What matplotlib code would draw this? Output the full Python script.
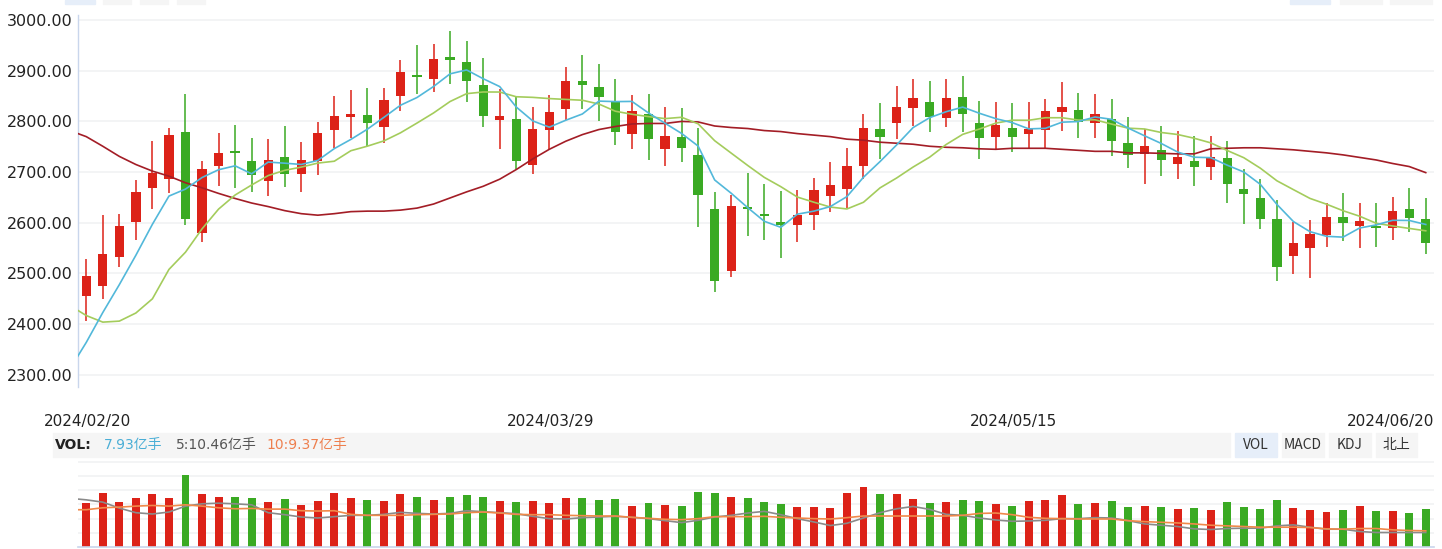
import numpy as np
import matplotlib
matplotlib.use("Agg")
import matplotlib.pyplot as plt
from matplotlib.patches import Rectangle
from matplotlib.transforms import blended_transform_factory

# daily candles, 2024/02/20 .. 2024/06/20 (82 trading days)
opens = [2455, 2475, 2532, 2601, 2668, 2685.5, 2780, 2579.6, 2712, 2739.5,
         2722.4, 2682, 2729, 2696, 2722.4, 2783, 2808.6, 2811.8, 2788.8, 2850,
         2892, 2883.6, 2926.3, 2916.4, 2871, 2802.6, 2804, 2715, 2783, 2824.3,
         2879, 2867, 2840, 2775, 2813.8, 2745.4, 2768.4, 2733, 2628, 2504.6,
         2631.6, 2616.4, 2600.7, 2595.4, 2615, 2652.6, 2666.4, 2712, 2784.2, 2796.7,
         2826.3, 2837.5, 2806.6, 2847.4, 2796, 2769, 2786.2, 2775, 2783, 2818.4,
         2821.7, 2796.7, 2804, 2756.6, 2735.5, 2742.8, 2715.8, 2721, 2710, 2727,
         2665.8, 2648, 2606.6, 2534.2, 2550, 2575, 2610.5, 2593.4, 2590.8, 2589.5,
         2626.3, 2606.6]
highs = [2528, 2616, 2618, 2684, 2760.5, 2788, 2855, 2721, 2778, 2792,
         2766.4, 2764.5, 2790, 2758.6, 2798, 2849.3, 2863, 2865, 2865, 2920.4,
         2950, 2952, 2977.6, 2958, 2924.3, 2864.5, 2848, 2827.6, 2851.3, 2906.6,
         2930.3, 2912.5, 2883, 2851.3, 2855, 2827.6, 2825.7, 2786.2, 2660, 2654,
         2697.4, 2675.7, 2661.8, 2663.8, 2687.5, 2719, 2746.7, 2813.8, 2835.5, 2869,
         2883, 2879, 2883, 2888.8, 2839.5, 2837.5, 2835.5, 2837.5, 2843.4, 2877,
         2857, 2855, 2843.4, 2808, 2784.2, 2790, 2780.3, 2770.4, 2770.4, 2760.5,
         2705.3, 2685.5, 2644, 2600.7, 2604.6, 2640, 2658, 2640, 2638.2, 2650,
         2667.8, 2648]
lows = [2406, 2449, 2512.5, 2566, 2628, 2658.6, 2595, 2562, 2671.7, 2668.4,
        2660.5, 2652.6, 2670.4, 2660.5, 2694, 2747.4, 2766.4, 2750.7, 2757.2, 2820.4,
        2855, 2858, 2873.7, 2838, 2788.8, 2744.7, 2705.3, 2696, 2744.7, 2802.6,
        2824.3, 2800.7, 2753.3, 2744.7, 2723, 2712, 2719, 2590.8, 2463, 2492.8,
        2573, 2566, 2530.3, 2562, 2585.5, 2621, 2629, 2685.5, 2725, 2764.5,
        2790, 2779, 2788.8, 2779, 2725, 2743.4, 2738.8, 2745.4, 2747.4, 2781,
        2767, 2767, 2731.6, 2708, 2676.3, 2692, 2686, 2672.4, 2684.2, 2638.8,
        2597.4, 2587.5, 2485, 2498.7, 2490.8, 2552, 2563.8, 2550, 2552, 2566,
        2581.6, 2538]
closes = [2496, 2537.5, 2593, 2660, 2699, 2774, 2606.6, 2707, 2737, 2737.5,
          2694.7, 2723, 2696, 2724.3, 2777.6, 2811, 2813.8, 2796.7, 2841.4, 2896.7,
          2887.5, 2922.4, 2921.7, 2879.6, 2810.5, 2809.9, 2721, 2784.2, 2817.8, 2879,
          2871.7, 2848, 2779, 2819.7, 2765, 2770.4, 2747.4, 2654.6, 2485, 2634,
          2628, 2613.2, 2595.4, 2614.5, 2663.8, 2673.7, 2711.2, 2786.2, 2769, 2827.6,
          2845.4, 2808.6, 2845.4, 2814.5, 2767, 2792, 2769, 2784.2, 2819.7, 2827.6,
          2798.7, 2813.8, 2761.2, 2733.6, 2750.7, 2723.7, 2729, 2710, 2729, 2676.3,
          2656.6, 2607.2, 2512.5, 2559.2, 2577, 2610.5, 2599.3, 2602.6, 2589.5, 2622.4,
          2609.2, 2560]

# moving average lines (first value = day before 02/20)
ma5 = [2311, 2364, 2423, 2478, 2536, 2597.1, 2652.7, 2666.5, 2689.3, 2704.7,
       2712.4, 2696.6, 2719.8, 2717.6, 2715.1, 2723.1, 2746.4, 2764.5, 2784.7, 2808.1,
       2831.9, 2847.2, 2868.9, 2893.9, 2901.6, 2884.3, 2868.8, 2828.5, 2801.0, 2788.7,
       2802.4, 2814.7, 2840.1, 2839.1, 2839.5, 2816.7, 2796.4, 2776.3, 2751.4, 2684.5,
       2658.3, 2629.8, 2603.0, 2591.1, 2617.0, 2623.0, 2632.1, 2651.7, 2689.9, 2720.8,
       2753.5, 2787.9, 2807.4, 2819.2, 2828.3, 2816.2, 2805.5, 2797.6, 2785.3, 2786.4,
       2798.5, 2799.8, 2808.8, 2804.2, 2787.0, 2771.6, 2756.6, 2739.6, 2729.4, 2728.5,
       2713.6, 2700.2, 2675.8, 2636.3, 2602.4, 2582.5, 2573.3, 2571.7, 2589.7, 2595.8,
       2604.9, 2604.6, 2596.7]
ma10 = [2437, 2417, 2404, 2406, 2422, 2450, 2508, 2542, 2588, 2627,
        2654.8, 2674.6, 2693.2, 2703.5, 2709.9, 2717.8, 2721.5, 2742.2, 2751.2, 2761.6,
        2777.5, 2796.8, 2816.7, 2839.3, 2854.8, 2858.1, 2858.0, 2848.7, 2847.5, 2845.1,
        2843.4, 2841.8, 2834.3, 2820.1, 2814.1, 2809.5, 2805.6, 2808.2, 2795.3, 2762.0,
        2737.5, 2713.1, 2689.6, 2671.3, 2650.8, 2640.6, 2631.0, 2627.3, 2640.5, 2668.9,
        2688.3, 2710.0, 2729.5, 2754.5, 2774.5, 2784.9, 2796.7, 2802.5, 2802.3, 2807.3,
        2807.3, 2802.7, 2803.2, 2794.8, 2786.7, 2785.1, 2778.2, 2774.2, 2766.8, 2757.7,
        2742.6, 2728.4, 2707.7, 2682.9, 2665.4, 2648.1, 2636.7, 2623.8, 2613.0, 2599.1,
        2593.7, 2588.9, 2584.2]
ma60 = [2782, 2770, 2751, 2731, 2715, 2702, 2692, 2679, 2669, 2658,
        2648, 2639, 2632, 2624, 2618, 2615, 2618, 2622, 2623, 2623,
        2625, 2629, 2637, 2649, 2661, 2672, 2686, 2705, 2726, 2745,
        2761, 2774, 2784, 2790, 2795, 2796, 2796, 2800, 2799, 2791,
        2788, 2786, 2782, 2780, 2776, 2773, 2770, 2765, 2763, 2759,
        2757, 2755, 2751, 2749, 2748, 2746, 2745, 2747, 2747, 2747,
        2745, 2743, 2741, 2741, 2738, 2738, 2737, 2736, 2736, 2746,
        2747, 2748, 2748, 2746, 2744, 2741, 2738, 2734, 2729, 2724,
        2717, 2711, 2699]

# volume (亿手) and its averages
volume = [9.21, 11.51, 9.42, 10.47, 11.3, 10.47, 15.28, 11.3, 10.68, 10.68,
          10.47, 9.42, 10.26, 8.79, 9.84, 11.51, 10.47, 10.05, 9.84, 11.3,
          10.68, 10.05, 10.68, 11.1, 10.68, 9.63, 9.42, 9.63, 9.21, 10.47,
          10.47, 10.05, 10.26, 8.58, 9.21, 8.79, 8.58, 11.72, 11.51, 10.68,
          10.47, 9.42, 9.0, 8.37, 8.37, 8.16, 11.51, 12.77, 11.3, 11.3,
          10.26, 9.21, 9.42, 10.05, 9.84, 9.0, 8.58, 9.63, 10.05, 11.1,
          9.0, 9.21, 9.63, 8.37, 8.58, 8.37, 7.96, 8.16, 7.75, 9.42,
          8.37, 7.96, 10.05, 8.16, 7.75, 7.33, 7.75, 8.58, 7.54, 7.54,
          7.12, 7.96]
vol_ma5 = [10.3, 9.98, 9.49, 8.23, 7.26, 6.98, 7.40, 8.65, 9.14, 9.28,
           9.14, 8.93, 7.26, 6.84, 6.35, 6.14, 6.42, 6.70, 6.70, 6.91,
           7.33, 7.12, 6.98, 7.12, 7.68, 7.47, 7.26, 7.05, 6.49, 6.00,
           5.93, 6.21, 6.35, 6.49, 6.28, 6.00, 5.58, 5.16, 5.65, 6.35,
           6.70, 7.19, 7.54, 6.84, 6.00, 5.30, 4.54, 5.02, 6.14, 7.26,
           8.09, 8.58, 7.96, 6.91, 6.70, 6.14, 5.72, 5.44, 5.51, 5.65,
           6.00, 6.00, 6.21, 6.14, 5.58, 4.88, 4.61, 4.33, 3.84, 3.70,
           3.91, 3.98, 3.98, 4.47, 4.68, 4.19, 3.77, 3.77, 3.28, 3.07,
           3.07, 3.07, 3.07]
vol_ma10 = [7.89, 7.89, 8.30, 8.44, 8.65, 8.79, 8.65, 8.93, 8.65, 8.30,
            8.09, 8.16, 8.02, 8.02, 7.68, 7.61, 7.68, 6.91, 6.70, 6.70,
            6.70, 6.84, 6.91, 6.98, 7.26, 7.40, 7.19, 6.91, 6.84, 6.84,
            6.70, 6.63, 6.56, 6.56, 6.28, 6.07, 5.86, 5.79, 6.00, 6.42,
            6.42, 6.42, 6.49, 6.28, 6.14, 6.00, 5.93, 6.21, 6.56, 6.56,
            6.56, 6.56, 6.56, 6.56, 6.70, 7.10, 7.19, 6.84, 6.28, 6.07,
            6.00, 5.93, 5.93, 5.93, 5.58, 5.37, 5.23, 5.09, 4.88, 4.61,
            4.47, 4.33, 4.19, 4.19, 4.19, 4.12, 3.84, 3.77, 3.91, 3.91,
            3.63, 3.49, 3.42]

date_labels = ["2024/02/20", "2024/03/29", "2024/05/15", "2024/06/20"]
date_index = [0, 28, 56, 81]
price_ticks = [2300, 2400, 2500, 2600, 2700, 2800, 2900, 3000]

RED = "#dc2218"
GREEN = "#3aaa23"
GRID = "#f2f3f5"
AXIS = "#c9d6ec"

W, H = 1442, 549


def fx(px):
    return px / W


def fy(py):
    return 1 - py / H


fig = plt.figure(figsize=(W / 100, H / 100), dpi=100)
fig.patch.set_facecolor("white")

# price panel
ax = fig.add_axes([fx(78), fy(387), fx(1434) - fx(78), fy(15) - fy(387)])
n = len(closes)
idx = np.arange(n)
o = np.array(opens)
c = np.array(closes)
up = c >= o
cols = [RED if u else GREEN for u in up]

for p in price_ticks:
    ax.axhline(p, color=GRID, lw=1.3, zorder=0)

ax.vlines(idx, lows, highs, colors=cols, lw=1.1, zorder=2)
body_lo = np.minimum(o, c)
body_h = np.maximum(np.abs(c - o), 4.0)
ax.bar(idx, body_h, bottom=body_lo, width=0.56, color=cols, zorder=3)

xl = np.arange(-1, n)
ax.plot(xl, ma60, color="#a31d26", lw=1.2, zorder=4)
ax.plot(xl, ma10, color="#a4cc5c", lw=1.2, zorder=4)
ax.plot(xl, ma5, color="#52b8da", lw=1.2, zorder=4)

ax.set_xlim(-0.5, n - 0.5)
ax.set_ylim(2276, 3010)
ax.set_yticks(price_ticks)
ax.set_yticklabels(["%.2f" % p for p in price_ticks], fontsize=11.5, color="#222222")
ax.tick_params(axis="y", length=0, pad=4)
ax.set_xticks([])
for s in ["top", "right", "bottom"]:
    ax.spines[s].set_visible(False)
ax.spines["left"].set_color(AXIS)
ax.spines["left"].set_linewidth(1.0)

tr = blended_transform_factory(ax.transData, ax.transAxes)
for lab, i in zip(date_labels, date_index):
    if i == n - 1:
        ax.text(n - 0.5, -0.092, lab, transform=tr, ha="right", va="center",
                fontsize=11, color="#222222")
    else:
        ax.text(i + 0.1, -0.092, lab, transform=tr, ha="center", va="center",
                fontsize=11, color="#222222")

# volume panel
vax = fig.add_axes([fx(78), fy(547), fx(1434) - fx(78), fy(461) - fy(547)])
for g in [3, 6, 9, 12, 15, 18]:
    vax.axhline(g, color=GRID, lw=1.3, zorder=0)
vax.bar(idx, volume, width=0.48, color=cols, zorder=2)
vax.plot(xl, vol_ma5, color="#8a8a8a", lw=1.2, zorder=3)
vax.plot(xl, vol_ma10, color="#f0894a", lw=1.2, zorder=3)
vax.set_xlim(-0.5, n - 0.5)
vax.set_ylim(0, 18.2)
vax.set_xticks([])
vax.set_yticks([])
for s in ["top", "right", "left"]:
    vax.spines[s].set_visible(False)
vax.spines["bottom"].set_color(AXIS)
vax.spines["bottom"].set_linewidth(1.2)

# header strip of the volume panel
fig.patches.append(Rectangle((fx(53), fy(457)), fx(1230) - fx(53), fy(433) - fy(457),
                             transform=fig.transFigure, color="#f5f5f5", zorder=0))
btns = [("VOL", 1235, 1277, "#e6eef9"), ("MACD", 1282, 1324, "#f5f5f5"),
        ("KDJ", 1329, 1371, "#f5f5f5"), ("北上", 1376, 1417, "#f5f5f5")]
cjk = ["DejaVu Sans", "Noto Sans CJK SC"]
for lab, x0, x1, bg in btns:
    fig.patches.append(Rectangle((fx(x0), fy(457)), fx(x1) - fx(x0), fy(433) - fy(457),
                                 transform=fig.transFigure, color=bg, zorder=0))
    fig.text(fx((x0 + x1) / 2), fy(445), lab, ha="center", va="center",
             fontsize=10, color="#333333", family=["Noto Sans CJK SC", "DejaVu Sans"])

fig.text(fx(55), fy(445), "VOL:", ha="left", va="center", fontsize=10,
         fontweight="bold", color="#222222")
fig.text(fx(104), fy(445), "7.93亿手", ha="left", va="center", fontsize=10,
         color="#4aaed6", family=cjk)
fig.text(fx(176), fy(445), "5:10.46亿手", ha="left", va="center", fontsize=10,
         color="#555555", family=cjk)
fig.text(fx(266), fy(445), "10:9.37亿手", ha="left", va="center", fontsize=10,
         color="#ee7f4e", family=cjk)

# cut-off tab buttons along the top edge
for x0, x1, bg in [(65, 95, "#e6eef9"), (103, 131, "#f5f5f5"), (140, 168, "#f5f5f5"),
                   (177, 205, "#f5f5f5"), (1290, 1330, "#e6eef9"),
                   (1340, 1382, "#f5f5f5"), (1390, 1432, "#f5f5f5")]:
    fig.patches.append(Rectangle((fx(x0), fy(4)), fx(x1) - fx(x0), fy(0) - fy(4),
                                 transform=fig.transFigure, color=bg, zorder=0))

fig.savefig("out.png", dpi=100)
